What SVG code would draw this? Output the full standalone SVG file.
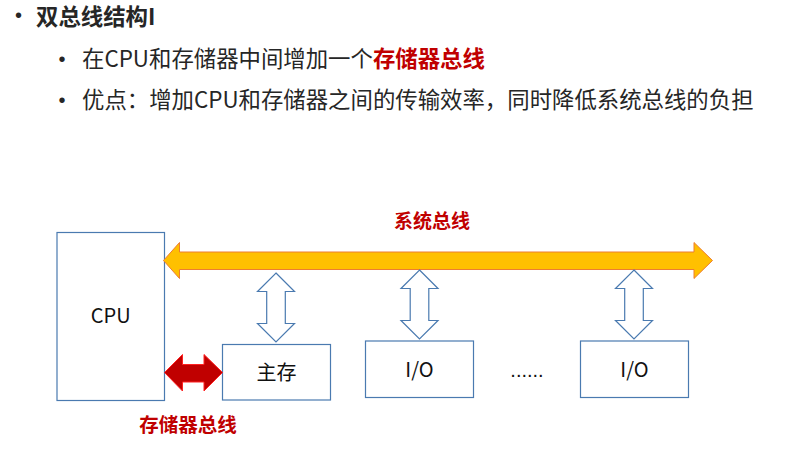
<svg xmlns="http://www.w3.org/2000/svg" width="789" height="457" viewBox="0 0 789 457">
<style>
.t{font-family:"Noto Sans CJK SC","Noto Sans",sans-serif;fill:#262626}
.h{font-size:22.4px}
.b{font-weight:bold}
.red{fill:#C00000;font-weight:bold}
.box{fill:#fff;stroke:#4A7AB0;stroke-width:1.2}
.lbl{font-family:"Noto Sans CJK SC","Noto Sans",sans-serif;font-size:20px;fill:#111;text-anchor:middle}
.dash{fill:#fff;stroke:#4A7AB0;stroke-width:1.2}
.bul{font-family:"Liberation Sans",Arial,sans-serif;font-size:20px;fill:#262626}
</style>
<defs>
<path id="vArrow" d="M0,0 L18.5,18.5 L9.3,18.5 L9.3,50.5 L18.5,50.5 L0,69 L-18.5,50.5 L-9.3,50.5 L-9.3,18.5 L-18.5,18.5 Z"/>
</defs>
<rect width="789" height="457" fill="#fff"/>
<g id="text">
<text class="bul" x="15" y="22">•</text>
<text class="t h b" x="36" y="25">双总线结构I</text>
<text class="bul" x="58.5" y="66">•</text>
<text class="t h" x="82" y="67">在CPU和存储器中间增加一个<tspan class="red">存储器总线</tspan></text>
<text class="bul" x="58.5" y="107">•</text>
<text class="t h" x="82" y="108">优点：增加CPU和存储器之间的传输效率，同时降低系统总线的负担</text>
</g>
<g id="cpu">
<rect class="box" x="57" y="232.5" width="107.5" height="168"/>
<text class="lbl" x="110.7" y="323">CPU</text>
</g>
<g id="mem">
<rect class="box" x="222.5" y="344.5" width="108" height="55.5"/>
<text class="lbl" x="276.5" y="380">主存</text>
</g>
<g id="io1">
<rect class="box" x="365.5" y="341" width="108" height="56.5"/>
<text class="lbl" x="419.5" y="377">I/O</text>
</g>
<g id="dots">
<text x="527" y="377" font-family="Liberation Sans, Arial, sans-serif" font-size="20" fill="#111" text-anchor="middle">......</text>
</g>
<g id="io2">
<rect class="box" x="580.5" y="341" width="108" height="56.5"/>
<text class="lbl" x="634.5" y="377">I/O</text>
</g>
<g id="connectors">
<polygon id="systemBus" points="163.5,260.5 179.5,242.5 179.5,252 694,252 694,242.5 712.5,260.5 694,278.5 694,269.5 179.5,269.5 179.5,278.5" fill="#FFC000" stroke="#ED7D31" stroke-width="1"/>
<polygon id="memBus" points="164.5,372.5 182.5,354.5 182.5,364.5 204,364.5 204,354.5 222.5,372.5 204,391 204,382 182.5,382 182.5,391" fill="#C00000" stroke="#FF2020" stroke-width="1"/>
<use href="#vArrow" class="dash" x="276" y="273"/>
<use href="#vArrow" class="dash" x="419.5" y="270"/>
<use href="#vArrow" class="dash" x="634" y="270"/>
</g>
<g id="labels">
<text class="t red" x="432" y="228" font-size="19" text-anchor="middle">系统总线</text>
<text class="t red" x="188" y="432" font-size="19.5" text-anchor="middle">存储器总线</text>
</g>
</svg>
